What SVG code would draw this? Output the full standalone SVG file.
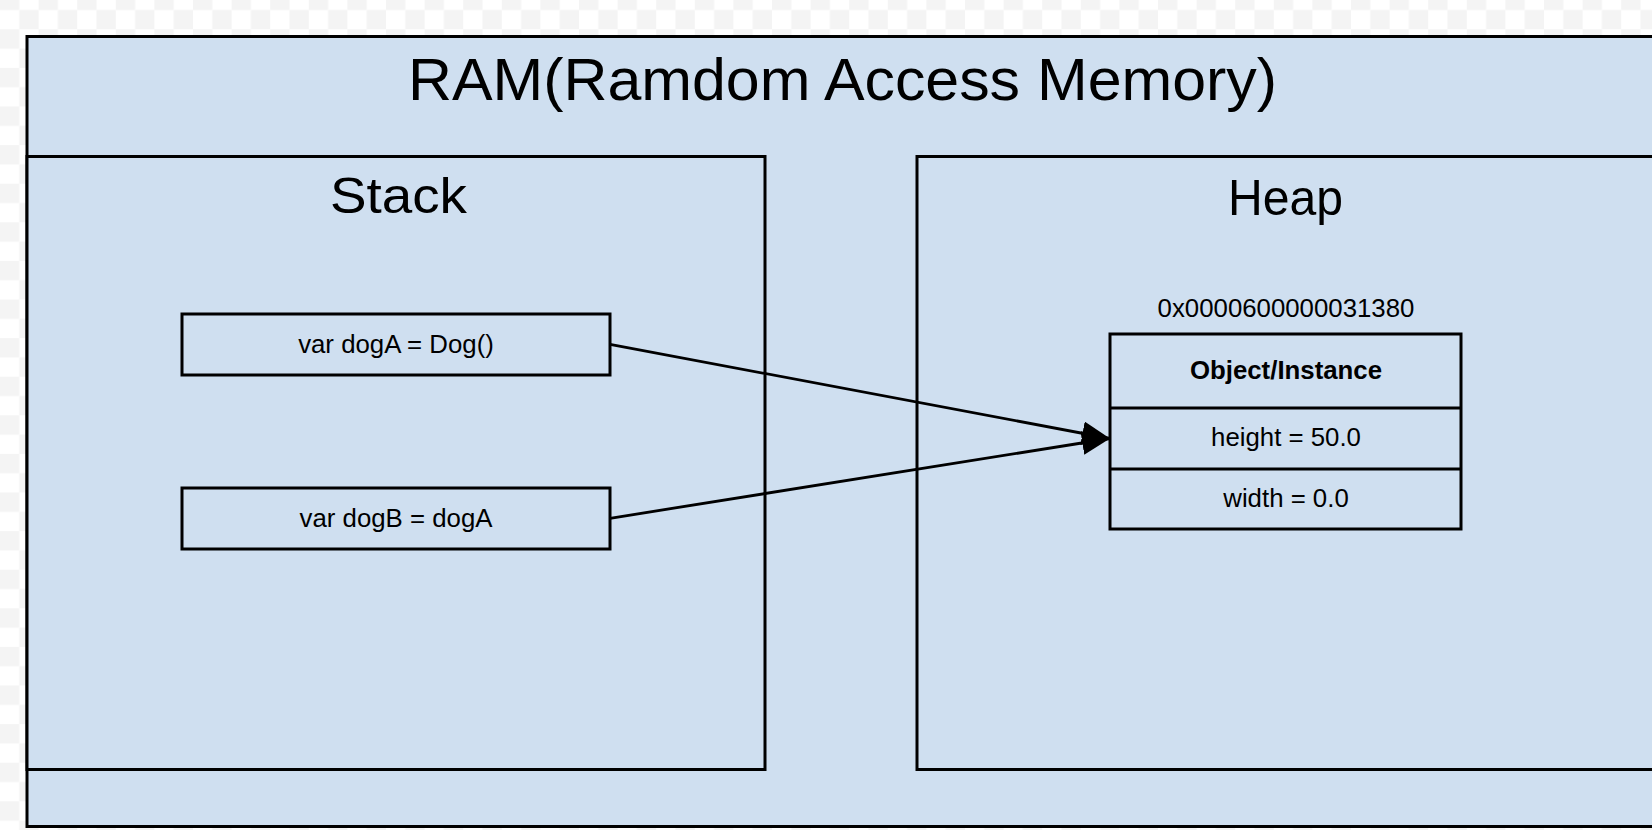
<svg xmlns="http://www.w3.org/2000/svg" width="1652" height="830" viewBox="0 0 1652 830">
  <style>
    .box { fill: #cfdff0; stroke: #000; stroke-width: 3; }
    .cell { fill: none; stroke: #000; stroke-width: 2.8; }
    .hand { font-family: "Comic Sans MS", "Liberation Sans", sans-serif; fill: #000; text-anchor: middle; }
    .lbl { font-family: "Liberation Sans", Arial, sans-serif; font-size: 25.8px; fill: #000; text-anchor: middle; }
    .conn { stroke: #000; stroke-width: 2.8; fill: none; }
  </style>
  <defs>
    <pattern id="checker" x="0" y="-9.3" width="38.6" height="38.6" patternUnits="userSpaceOnUse">
      <rect x="0" y="0" width="38.6" height="38.6" fill="#ffffff"/>
      <rect x="0" y="0" width="19.3" height="19.3" fill="#f4f4f4"/>
      <rect x="19.3" y="19.3" width="19.3" height="19.3" fill="#f4f4f4"/>
    </pattern>
    <marker id="arrow" markerUnits="userSpaceOnUse" markerWidth="30" markerHeight="26" refX="28" refY="12" orient="auto">
      <path d="M0,0 L28,12 L0,24 Z" fill="#000"/>
    </marker>
  </defs>

  <rect x="0" y="0" width="1652" height="830" fill="url(#checker)"/>

  <g id="ram">
    <rect class="box" x="27" y="36.5" width="1640" height="790"/>
    <text class="hand" x="842.5" y="100" font-size="60" textLength="869" lengthAdjust="spacingAndGlyphs">RAM(Ramdom Access Memory)</text>
  </g>

  <g id="stack">
    <rect class="box" x="27" y="156.5" width="738" height="613"/>
    <text class="hand" x="398.5" y="213" font-size="50" textLength="137" lengthAdjust="spacingAndGlyphs">Stack</text>
  </g>

  <g id="heap">
    <rect class="box" x="917" y="156.5" width="750" height="613"/>
    <text class="hand" x="1285.5" y="215" font-size="50" textLength="115" lengthAdjust="spacingAndGlyphs">Heap</text>
  </g>

  <g id="dogA">
    <rect class="box" x="182" y="314" width="428" height="61"/>
    <text class="lbl" x="396" y="353">var dogA = Dog()</text>
  </g>

  <g id="dogB">
    <rect class="box" x="182" y="488" width="428" height="61"/>
    <text class="lbl" x="396" y="527">var dogB = dogA</text>
  </g>

  <g id="object">
    <text class="lbl" x="1286" y="317">0x0000600000031380</text>
    <rect class="box" x="1110" y="334" width="351" height="195"/>
    <line class="cell" x1="1110" y1="408" x2="1461" y2="408"/>
    <line class="cell" x1="1110" y1="469" x2="1461" y2="469"/>
    <text class="lbl" x="1286" y="379" font-weight="bold">Object/Instance</text>
    <text class="lbl" x="1286" y="446">height = 50.0</text>
    <text class="lbl" x="1286" y="507">width = 0.0</text>
  </g>

  <g id="connectors">
    <line class="conn" x1="610" y1="344.3" x2="1110" y2="438.5" marker-end="url(#arrow)"/>
    <line class="conn" x1="610" y1="518.3" x2="1110" y2="438.5" marker-end="url(#arrow)"/>
  </g>
</svg>
